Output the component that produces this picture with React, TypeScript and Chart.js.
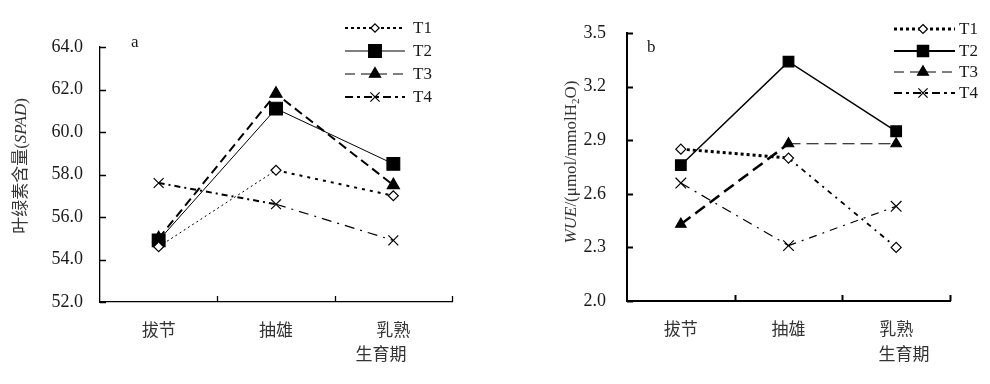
import React, { useEffect, useRef } from 'react';
import { Chart, registerables } from 'chart.js';

Chart.register(...registerables);

// ---------- data ----------
const categories = ['拔节', '抽雄', '乳熟'];
const seriesNames = ['T1', 'T2', 'T3', 'T4'];

const spadT1 = [54.6, 58.2, 57.0];
const spadT2 = [54.9, 61.1, 58.5];
const spadT3 = [55.0, 61.8, 57.5];
const spadT4 = [57.6, 56.6, 54.9];
const spadTicks = [52, 54, 56, 58, 60, 62, 64];

const wueT1 = [2.85, 2.8, 2.3];
const wueT2 = [2.76, 3.34, 2.95];
const wueT3 = [2.43, 2.88, 2.88];
const wueT4 = [2.66, 2.31, 2.53];
const wueTicks = [2.0, 2.3, 2.6, 2.9, 3.2, 3.5];

const xAxisTitle = '生育期';

// ---------- styles ----------
const FONT_FAMILY = '"Liberation Serif", "Noto Sans CJK SC", serif';
const TEXT_COLOR = '#1a1a1a';

type Marker = 'rectRot' | 'rect' | 'triangle' | 'crossRot';
interface SeriesStyle {
  marker: Marker;
  radius: number;
  fill: string;
  segDash: number[][];
  segWidth: number[];
  legendDash: number[];
  legendWidth: number;
  legendRadius: number;
}
interface TitlePart { text: string; italic?: boolean; sub?: boolean }
interface PanelCfg {
  offsetX: number;
  width: number;
  height: number;
  area: { left: number; right: number; top: number; bottom: number };
  values: number[][];
  styles: SeriesStyle[];
  yTicks: number[];
  yTickPadding: number;
  xTickPadding: number;
  axisWidth: number;
  yTitle: TitlePart[];
  yTitleX: number;
  yTitleY: number;
  label: string;
  labelX: number;
  labelY: number;
  xTitleX: number;
  xTitleY: number;
  legend: { x0: number; x1: number; xm: number; tx: number; ys: number[] };
}

const leftStyles: SeriesStyle[] = [
  { marker: 'rectRot', radius: 5, fill: '#fff', segDash: [[2, 3], [3, 5]], segWidth: [1, 2], legendDash: [3, 3], legendWidth: 2, legendRadius: 4.2 },
  { marker: 'rect', radius: 9, fill: '#000', segDash: [[], []], segWidth: [1, 1], legendDash: [], legendWidth: 1, legendRadius: 9 },
  { marker: 'triangle', radius: 7, fill: '#000', segDash: [[9, 5], [9, 5]], segWidth: [2, 2], legendDash: [10, 6], legendWidth: 1, legendRadius: 6.5 },
  { marker: 'crossRot', radius: 7, fill: '#000', segDash: [[6, 4, 2, 4], [10, 6, 2, 6]], segWidth: [2, 1.2], legendDash: [8, 4, 3, 4], legendWidth: 2, legendRadius: 6.5 },
];

const rightStyles: SeriesStyle[] = [
  { marker: 'rectRot', radius: 5, fill: '#fff', segDash: [[3, 3], [5, 5, 2, 5]], segWidth: [3, 1.8], legendDash: [3, 3], legendWidth: 3, legendRadius: 4.5 },
  { marker: 'rect', radius: 7.5, fill: '#000', segDash: [[], []], segWidth: [1.5, 1.5], legendDash: [], legendWidth: 2, legendRadius: 8 },
  { marker: 'triangle', radius: 6, fill: '#000', segDash: [[12, 6], [12, 6]], segWidth: [2.5, 1.2], legendDash: [10, 6], legendWidth: 1, legendRadius: 6.3 },
  { marker: 'crossRot', radius: 7.5, fill: '#000', segDash: [[10, 6, 2, 6], [8, 6, 2, 6]], segWidth: [1.2, 1.2], legendDash: [8, 4, 3, 4], legendWidth: 2, legendRadius: 6.5 },
];

const leftPanel: PanelCfg = {
  offsetX: 0,
  width: 495,
  height: 384,
  area: { left: 100, right: 452, top: 47, bottom: 302 },
  values: [spadT1, spadT2, spadT3, spadT4],
  styles: leftStyles,
  yTicks: spadTicks,
  yTickPadding: 17,
  xTickPadding: 19,
  axisWidth: 1.3,
  yTitle: [{ text: '叶绿素含量(' }, { text: 'SPAD', italic: true }, { text: ')' }],
  yTitleX: 22,
  yTitleY: 166,
  label: 'a',
  labelX: 131,
  labelY: 47,
  xTitleX: 381,
  xTitleY: 356,
  legend: { x0: 345, x1: 405, xm: 375, tx: 413, ys: [28, 51, 74, 97] },
};

const rightPanel: PanelCfg = {
  offsetX: 495,
  width: 495,
  height: 384,
  area: { left: 132, right: 455, top: 33, bottom: 301 },
  values: [wueT1, wueT2, wueT3, wueT4],
  styles: rightStyles,
  yTicks: wueTicks,
  yTickPadding: 21,
  xTickPadding: 19,
  axisWidth: 2,
  yTitle: [
    { text: 'WUE', italic: true },
    { text: '/(μmol/mmolH' },
    { text: '2', sub: true },
    { text: 'O)' },
  ],
  yTitleX: 77,
  yTitleY: 162,
  label: 'b',
  labelX: 152,
  labelY: 52,
  xTitleX: 409,
  xTitleY: 356,
  legend: { x0: 399, x1: 460, xm: 428, tx: 464, ys: [29, 51, 72, 93] },
};

// ---------- drawing helpers ----------
function drawMarker(ctx: CanvasRenderingContext2D, marker: Marker, x: number, y: number, r: number, fill: string) {
  ctx.save();
  ctx.setLineDash([]);
  ctx.lineWidth = 1.2;
  ctx.strokeStyle = '#000';
  ctx.fillStyle = fill;
  ctx.beginPath();
  if (marker === 'rectRot') {
    ctx.moveTo(x, y - r);
    ctx.lineTo(x + r, y);
    ctx.lineTo(x, y + r);
    ctx.lineTo(x - r, y);
    ctx.closePath();
    ctx.fill();
    ctx.stroke();
  } else if (marker === 'rect') {
    const h = r * Math.SQRT1_2;
    ctx.rect(x - h, y - h, 2 * h, 2 * h);
    ctx.fill();
    ctx.stroke();
  } else if (marker === 'triangle') {
    for (let k = 0; k < 3; k++) {
      const a = (k * 2 * Math.PI) / 3;
      const px = x + Math.sin(a) * r;
      const py = y - Math.cos(a) * r;
      if (k === 0) ctx.moveTo(px, py);
      else ctx.lineTo(px, py);
    }
    ctx.closePath();
    ctx.fill();
    ctx.stroke();
  } else {
    const h = r * Math.SQRT1_2;
    ctx.moveTo(x - h, y - h);
    ctx.lineTo(x + h, y + h);
    ctx.moveTo(x + h, y - h);
    ctx.lineTo(x - h, y + h);
    ctx.stroke();
  }
  ctx.restore();
}

const decorPlugin = {
  id: 'decor',
  afterDraw(chart: any, _args: any, opts: any) {
    const cfg: PanelCfg = opts.cfg;
    if (!cfg) return;
    const ctx: CanvasRenderingContext2D = chart.ctx;
    const area = chart.chartArea;
    const yScale = chart.scales.y;
    const xScale = chart.scales.x;
    ctx.save();

    // inward tick marks
    ctx.strokeStyle = '#000';
    ctx.lineWidth = cfg.axisWidth;
    ctx.setLineDash([]);
    ctx.beginPath();
    cfg.yTicks.forEach((v) => {
      const y = Math.round(yScale.getPixelForValue(v)) + 0.5;
      ctx.moveTo(area.left, y);
      ctx.lineTo(area.left + 6, y);
    });
    const n = categories.length;
    const w = (xScale.right - xScale.left) / n;
    for (let i = 1; i <= n; i++) {
      const x = Math.round(xScale.left + i * w) + 0.5;
      ctx.moveTo(x, area.bottom);
      ctx.lineTo(x, area.bottom - 6);
    }
    ctx.stroke();

    // rotated y-axis title with rich text
    ctx.save();
    ctx.translate(cfg.yTitleX, cfg.yTitleY);
    ctx.rotate(-Math.PI / 2);
    ctx.fillStyle = '#333';
    ctx.textBaseline = 'middle';
    ctx.textAlign = 'left';
    const fontFor = (p: TitlePart) => `${p.italic ? 'italic ' : ''}${p.sub ? 11 : 17}px ${FONT_FAMILY}`;
    let total = 0;
    cfg.yTitle.forEach((p) => {
      ctx.font = fontFor(p);
      total += ctx.measureText(p.text).width;
    });
    let cx = -total / 2;
    cfg.yTitle.forEach((p) => {
      ctx.font = fontFor(p);
      ctx.fillText(p.text, cx, p.sub ? 4 : 0);
      cx += ctx.measureText(p.text).width;
    });
    ctx.restore();

    // panel label
    ctx.fillStyle = TEXT_COLOR;
    ctx.font = `17px ${FONT_FAMILY}`;
    ctx.textAlign = 'left';
    ctx.textBaseline = 'alphabetic';
    ctx.fillText(cfg.label, cfg.labelX, cfg.labelY);

    // x-axis title
    ctx.fillStyle = '#333';
    ctx.textAlign = 'center';
    ctx.textBaseline = 'middle';
    ctx.fillText(xAxisTitle, cfg.xTitleX, cfg.xTitleY);

    // legend
    const lg = cfg.legend;
    cfg.styles.forEach((s, i) => {
      const y = lg.ys[i];
      ctx.save();
      ctx.strokeStyle = '#000';
      ctx.lineWidth = s.legendWidth;
      ctx.setLineDash(s.legendDash);
      ctx.beginPath();
      ctx.moveTo(lg.x0, y);
      ctx.lineTo(lg.x1, y);
      ctx.stroke();
      ctx.restore();
      drawMarker(ctx, s.marker, lg.xm, y, s.legendRadius, s.fill);
      ctx.fillStyle = TEXT_COLOR;
      ctx.font = `17px ${FONT_FAMILY}`;
      ctx.textAlign = 'left';
      ctx.textBaseline = 'middle';
      ctx.fillText(seriesNames[i], lg.tx, y + 1);
    });

    ctx.restore();
  },
};

function Panel({ cfg }: { cfg: PanelCfg }) {
  const ref = useRef<HTMLCanvasElement>(null);
  useEffect(() => {
    const canvas = ref.current;
    if (!canvas) return;
    const chart = new Chart(canvas, {
      type: 'line',
      data: {
        labels: categories,
        datasets: cfg.values.map((data, i) => {
          const s = cfg.styles[i];
          return {
            label: seriesNames[i],
            data,
            borderColor: '#000',
            backgroundColor: '#000',
            borderWidth: s.segWidth[0],
            borderDash: s.segDash[0],
            segment: {
              borderDash: (c: any) => s.segDash[c.p0DataIndex],
              borderWidth: (c: any) => s.segWidth[c.p0DataIndex],
            },
            pointStyle: s.marker,
            pointRadius: s.radius,
            pointBackgroundColor: s.fill,
            pointBorderColor: '#000',
            pointBorderWidth: 1.2,
            tension: 0,
            fill: false,
            clip: false,
          } as any;
        }),
      },
      options: {
        responsive: false,
        animation: false,
        devicePixelRatio: 1,
        layout: {
          padding: {
            left: 0,
            right: cfg.width - cfg.area.right,
            top: cfg.area.top,
            bottom: 0,
          },
        },
        plugins: {
          legend: { display: false },
          tooltip: { enabled: false },
          decor: { cfg },
        } as any,
        scales: {
          x: {
            type: 'category',
            offset: true,
            grid: { display: false, drawTicks: false },
            border: { display: true, color: '#000', width: cfg.axisWidth },
            ticks: {
              color: '#333',
              padding: cfg.xTickPadding,
              font: { family: FONT_FAMILY, size: 17 },
              maxRotation: 0,
            },
            afterFit: (s: any) => {
              s.height = cfg.height - cfg.area.bottom;
            },
          },
          y: {
            type: 'linear',
            min: cfg.yTicks[0],
            max: cfg.yTicks[cfg.yTicks.length - 1],
            grid: { display: false, drawTicks: false },
            border: { display: true, color: '#000', width: cfg.axisWidth },
            afterBuildTicks: (s: any) => {
              s.ticks = cfg.yTicks.map((value) => ({ value }));
            },
            ticks: {
              color: TEXT_COLOR,
              padding: cfg.yTickPadding,
              font: { family: FONT_FAMILY, size: 18 },
              callback: (v: any) => Number(v).toFixed(1),
            },
            afterFit: (s: any) => {
              s.width = cfg.area.left;
            },
          },
        } as any,
      },
      plugins: [decorPlugin],
    });
    return () => chart.destroy();
  }, [cfg]);
  return (
    <canvas
      ref={ref}
      width={cfg.width}
      height={cfg.height}
      style={{ position: 'absolute', left: cfg.offsetX, top: 0, width: cfg.width, height: cfg.height }}
    />
  );
}

export default function App() {
  return (
    <div style={{ position: 'fixed', left: 0, top: 0, width: 990, height: 384, background: '#fff', overflow: 'hidden' }}>
      <Panel cfg={leftPanel} />
      <Panel cfg={rightPanel} />
    </div>
  );
}
